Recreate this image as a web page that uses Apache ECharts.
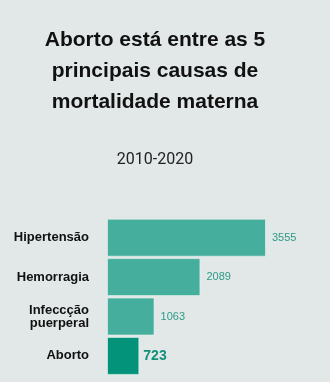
<!DOCTYPE html>
<html><head><meta charset="utf-8">
<script src="https://cdn.jsdelivr.net/npm/echarts@6/dist/echarts.min.js"></script>
<style>html,body{margin:0;padding:0;background:#e1e8e7}#c{width:330px;height:382px}</style>
</head><body><div id="c"></div>
<script>
var categories = ['Hipertensão', 'Hemorragia', 'Infeccção\npuerperal', 'Aborto'];
var values = [3555, 2089, 1063, 723];
var highlight = 'Aborto';

var chart = echarts.init(document.getElementById('c'), null, {renderer: 'canvas'});
var data = values.map(function (v, i) {
  var hi = categories[i] === highlight;
  return {
    value: v,
    itemStyle: {color: hi ? '#03937a' : '#46ae9c'},
    label: hi ? {fontSize: 14, fontWeight: 'bold', color: '#13907a', distance: 4} : {}
  };
});
chart.setOption({
  backgroundColor: '#e1e8e7',
  animation: false,
  title: [{
    text: 'Aborto está entre as 5\nprincipais causas de\nmortalidade materna',
    left: 155, top: 25, padding: 0, textAlign: 'center',
    textStyle: {fontFamily: 'Liberation Sans', fontWeight: 'bold', fontSize: 21, lineHeight: 31, color: '#111'}
  }, {
    text: '2010-2020',
    left: 155, top: 152, padding: 0, textAlign: 'center',
    textStyle: {fontFamily: 'Roboto', fontWeight: 'normal', fontSize: 16, color: '#222'}
  }],
  grid: {left: 107, top: 218, width: 159, height: 157.6, containLabel: false},
  xAxis: {type: 'value', min: 0, max: 3555, show: false},
  yAxis: {
    type: 'category', data: categories, inverse: true,
    axisLine: {show: false}, axisTick: {show: false},
    axisLabel: {margin: 18, fontFamily: 'Liberation Sans', fontWeight: 'bold', fontSize: 13, lineHeight: 13, color: '#111', align: 'right'}
  },
  series: [{
    type: 'bar', data: data, barWidth: 38,
    itemStyle: {borderColor: 'rgba(235,245,243,0.6)', borderWidth: 1},
    label: {show: true, position: 'right', distance: 6, fontFamily: 'Liberation Sans', fontSize: 11, color: '#2e9a88'}
  }]
});
</script></body></html>
